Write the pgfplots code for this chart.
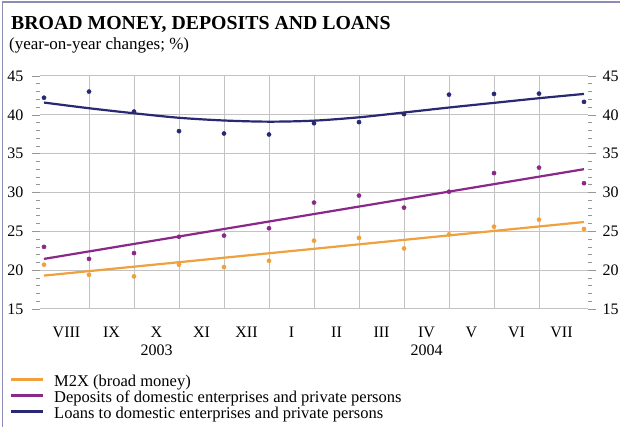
\documentclass[border=0pt]{standalone}
\usepackage{pgfplots}
\pgfplotsset{compat=1.18}
\usepackage{fontspec}
\setmainfont{Liberation Serif}

\definecolor{cM}{RGB}{240,160,60}
\definecolor{cD}{RGB}{138,40,138}
\definecolor{cL}{RGB}{40,40,115}
\definecolor{cG}{RGB}{195,195,195}
\definecolor{cT}{RGB}{150,150,150}
\definecolor{cF}{RGB}{140,140,180}

\begin{document}
\begin{tikzpicture}
\useasboundingbox (0,0) rectangle (620pt,427pt);
\draw[cF, line width=1.2pt] (2.5pt,0) -- (2.5pt,425pt) -- (620pt,425pt);
\node[anchor=base west, inner sep=0, font=\fontsize{19.8}{22}\selectfont\bfseries] at (11pt,397.7pt) {BROAD MONEY, DEPOSITS AND LOANS};
\node[anchor=base west, inner sep=0, font=\fontsize{17}{19}\selectfont] at (9pt,377pt) {(year-on-year changes; \%)};

\begin{axis}[
 at={(40pt,118pt)}, anchor=south west, scale only axis, width=548pt, height=233pt,
 xmin=-0.089, xmax=12.089, ymin=15, ymax=45,
 axis line style={draw=none},
 ytick={15,20,...,45}, minor y tick num=4, ytick pos=both, yticklabel pos=left,
 xtick={1,...,11}, xticklabels={}, xmajorticks=false,
 tick align=outside, major tick length=8pt, minor tick length=4pt,
 tick style={cT, line width=0.6pt},
 grid=major, major grid style={cG, line width=1pt},
 /pgf/number format/assume math mode=true,
 yticklabel style={font=\fontsize{16}{18}\selectfont, xshift=-5pt},
 legend style={at={(-0.0547,-0.2875)}, anchor=north west, draw=none, fill=none,
   inner sep=0pt, outer sep=0pt, font=\fontsize{16.5}{18}\selectfont,
   nodes={inner sep=0pt, text height=11pt, text depth=5pt},
   /tikz/every odd column/.style={column sep=10pt}},
 legend cell align=left,
 legend image code/.code={\draw[#1] (0pt,4.5pt) -- (32pt,4.5pt);},
]
\addplot[cM, line width=2.2pt] coordinates {(0,19.3) (12,26.2)};
\addlegendentry{M2X (broad money)}
\addplot[cD, line width=2.2pt] coordinates {(0,21.45) (12,33.0)};
\addlegendentry{Deposits of domestic enterprises and private persons}
\addplot[cL, line width=2.2pt, smooth] coordinates {
 (0,41.58) (1,40.85) (2,40.2) (3,39.62) (4,39.27) (5,39.12) (6,39.25)
 (7,39.68) (8,40.3) (9,40.94) (10,41.54) (11,42.14) (12,42.69)};
\addlegendentry{Loans to domestic enterprises and private persons}
\addplot[only marks, mark=*, mark size=2.1pt, cM, forget plot] coordinates {
 (0,20.7) (1,19.4) (2,19.2) (3,20.7) (4,20.4) (5,21.2) (6,23.8)
 (7,24.15) (8,22.8) (9,24.6) (10,25.6) (11,26.5) (12,25.3)};
\addplot[only marks, mark=*, mark size=2.1pt, cD, forget plot] coordinates {
 (0,23.0) (1,21.45) (2,22.2) (3,24.3) (4,24.45) (5,25.4) (6,28.7)
 (7,29.6) (8,28.05) (9,30.1) (10,32.5) (11,33.2) (12,31.2)};
\addplot[only marks, mark=*, mark size=2.1pt, cL, forget plot] coordinates {
 (0,42.2) (1,42.99) (2,40.42) (3,37.9) (4,37.6) (5,37.47) (6,38.92)
 (7,39.06) (8,40.09) (9,42.6) (10,42.69) (11,42.73) (12,41.67)};
\end{axis}

\begin{axis}[
 at={(40pt,118pt)}, anchor=south west, scale only axis, width=548pt, height=233pt,
 xmin=-0.089, xmax=12.089, ymin=15, ymax=45,
 axis line style={draw=none},
 ytick={15,20,...,45}, yticklabel pos=right, ytick style={draw=none},
 xtick={0.5,1.5,...,11.5},
 xticklabels={VIII,IX,{X\\2003},XI,XII,I,II,III,{IV\\2004},V,VI,VII},
 xtick style={draw=none},
 xticklabel style={align=center, font=\fontsize{16}{18.3}\selectfont, yshift=-14pt},
 yticklabel style={font=\fontsize{16}{18}\selectfont, xshift=11pt},
 /pgf/number format/assume math mode=true,
]
\addplot[draw=none] coordinates {(0,15)};
\end{axis}
\end{tikzpicture}
\end{document}
